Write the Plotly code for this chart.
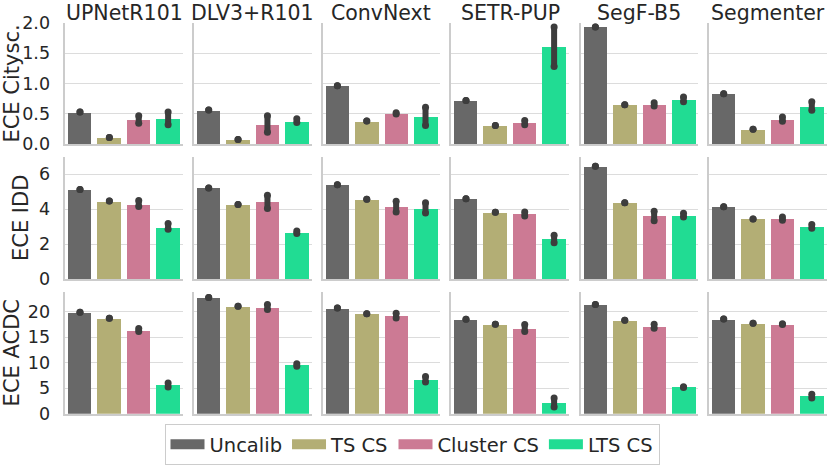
import plotly.graph_objects as go
from plotly.subplots import make_subplots

models = ["UPNetR101", "DLV3+R101", "ConvNext", "SETR-PUP", "SegF-B5", "Segmenter"]
methods = ["Uncalib", "TS CS", "Cluster CS", "LTS CS"]
colors = ["#686868", "#b3ae75", "#cc7a94", "#21dc93"]

# mean ECE per method (rows: Uncalib, TS CS, Cluster CS, LTS CS), per model (columns)
city_mean = [[0.52, 0.56, 0.965, 0.715, 1.93, 0.825],
             [0.105, 0.075, 0.38, 0.31, 0.65, 0.245],
             [0.40, 0.33, 0.51, 0.35, 0.65, 0.41],
             [0.42, 0.38, 0.45, 1.60, 0.74, 0.62]]
city_lo = [[0.53, 0.565, 0.965, 0.72, 1.93, 0.83],
           [0.11, 0.077, 0.385, 0.31, 0.65, 0.247],
           [0.345, 0.20, 0.50, 0.32, 0.63, 0.38],
           [0.32, 0.36, 0.31, 1.28, 0.70, 0.56]]
city_hi = [[0.53, 0.565, 0.965, 0.72, 1.93, 0.83],
           [0.11, 0.077, 0.385, 0.31, 0.65, 0.247],
           [0.47, 0.47, 0.52, 0.39, 0.685, 0.45],
           [0.53, 0.42, 0.61, 1.93, 0.78, 0.70]]

idd_mean = [[5.1, 5.2, 5.38, 4.58, 6.45, 4.12],
            [4.44, 4.25, 4.56, 3.81, 4.35, 3.43],
            [4.28, 4.40, 4.13, 3.73, 3.61, 3.44],
            [2.96, 2.64, 4.03, 2.29, 3.65, 2.98]]
idd_lo = [[5.12, 5.21, 5.39, 4.59, 6.46, 4.13],
          [4.46, 4.26, 4.57, 3.82, 4.36, 3.44],
          [4.15, 4.03, 3.84, 3.61, 3.33, 3.36],
          [2.85, 2.60, 3.78, 2.08, 3.55, 2.90]]
idd_hi = [[5.12, 5.21, 5.39, 4.59, 6.46, 4.13],
          [4.46, 4.26, 4.57, 3.82, 4.36, 3.44],
          [4.49, 4.80, 4.45, 3.84, 3.88, 3.55],
          [3.17, 2.75, 4.36, 2.50, 3.76, 3.12]]

acdc_mean = [[19.8, 22.7, 20.65, 18.45, 21.3, 18.5],
             [18.6, 21.0, 19.6, 17.45, 18.25, 17.65],
             [16.35, 20.75, 19.2, 16.75, 17.05, 17.5],
             [5.6, 9.55, 6.65, 2.15, 5.2, 3.45]]
acdc_lo = [[19.87, 22.75, 20.7, 18.5, 21.37, 18.56],
           [18.69, 21.05, 19.6, 17.5, 18.3, 17.71],
           [16.08, 20.39, 18.76, 16.08, 16.73, 17.45],
           [5.23, 9.28, 6.2, 1.31, 5.15, 3.07]]
acdc_hi = [[19.87, 22.75, 20.7, 18.5, 21.37, 18.56],
           [18.69, 21.05, 19.6, 17.5, 18.3, 17.71],
           [16.67, 21.37, 19.67, 17.45, 17.5, 17.6],
           [6.0, 9.8, 7.3, 3.07, 5.3, 3.79]]

row_names = ["ECE Citysc.", "ECE IDD", "ECE ACDC"]
row_means = [city_mean, idd_mean, acdc_mean]
row_los = [city_lo, idd_lo, acdc_lo]
row_his = [city_hi, idd_hi, acdc_hi]
row_top = [2.0, 7.0, 23.9]
row_ticks = [[0, 0.5, 1.0, 1.5, 2.0], [0, 2, 4, 6], [0, 5, 10, 15, 20]]
row_ticktext = [["0.0", "0.5", "1.0", "1.5", "2.0"], ["0", "2", "4", "6"], ["0", "5", "10", "15", "20"]]

W, H = 830, 468
col_left = [65.3, 194, 322.7, 451.3, 580.7, 709]
col_w = 117.5
row_px = [(22.7, 144.3), (156.7, 279), (291.7, 413.7)]


def px(v):
    return v / W


def py(v):
    return 1 - v / H


fig = make_subplots(rows=3, cols=6)
font = "DejaVu Sans"
txt = "#262626"

for r in range(3):
    for c in range(6):
        ys = [row_means[r][k][c] for k in range(4)]
        fig.add_trace(go.Bar(x=[0, 1, 2, 3], y=ys, marker_color=colors, width=0.8,
                             marker_line_width=0, showlegend=False, hoverinfo="skip"),
                      row=r + 1, col=c + 1)
        ex, ey = [], []
        for k in range(4):
            ex += [k, k, None]
            ey += [row_los[r][k][c], row_his[r][k][c], None]
        fig.add_trace(go.Scatter(x=ex, y=ey, mode="lines+markers",
                                 line=dict(color="#3d3d3d", width=6),
                                 marker=dict(color="#3d3d3d", size=7),
                                 showlegend=False, hoverinfo="skip", cliponaxis=False),
                      row=r + 1, col=c + 1)
        fig.update_xaxes(domain=[px(col_left[c]), px(col_left[c] + col_w)],
                         range=[-0.5, 3.5], showticklabels=False, showgrid=False,
                         zeroline=False, showline=True, linecolor="#cccccc", linewidth=1.5,
                         automargin=False, row=r + 1, col=c + 1)
        top, bot = row_px[r]
        fig.update_yaxes(domain=[py(bot), py(top)], range=[0, row_top[r]],
                         tickvals=row_ticks[r], ticktext=row_ticktext[r],
                         showticklabels=(c == 0), showgrid=True, gridcolor="#dcdcdc", gridwidth=1.2,
                         zeroline=False, showline=True, linecolor="#cccccc", linewidth=1.5,
                         ticklabelstandoff=10, tickfont=dict(size=17.5, color=txt),
                         automargin=False, row=r + 1, col=c + 1)
        if c == 0:
            fig.update_yaxes(title=dict(text=row_names[r], font=dict(size=21, color=txt), standoff=5),
                             row=r + 1, col=c + 1)

for c in range(6):
    fig.add_annotation(text=models[c], x=px(col_left[c] + col_w / 2), y=py(12.5),
                       xref="paper", yref="paper", xanchor="center", yanchor="middle",
                       showarrow=False, font=dict(size=20.5, color=txt))

# legend entries
for k in range(4):
    fig.add_trace(go.Scatter(x=[None], y=[None], mode="lines", name=methods[k],
                             line=dict(color=colors[k], width=13)), row=1, col=1)

fig.update_layout(
    width=W, height=H, margin=dict(l=0, r=0, t=0, b=0),
    plot_bgcolor="white", paper_bgcolor="white",
    font=dict(family=font, color=txt),
    bargap=0,
    legend=dict(orientation="h", x=px(412), xanchor="center", y=py(465), yanchor="bottom",
                font=dict(size=19.5, color=txt), bordercolor="#cccccc", borderwidth=1,
                itemwidth=34, tracegroupgap=0, traceorder="normal"),
)

fig.write_html("out.html", config={"displayModeBar": False},
               post_script="document.body.style.margin='0px';")
